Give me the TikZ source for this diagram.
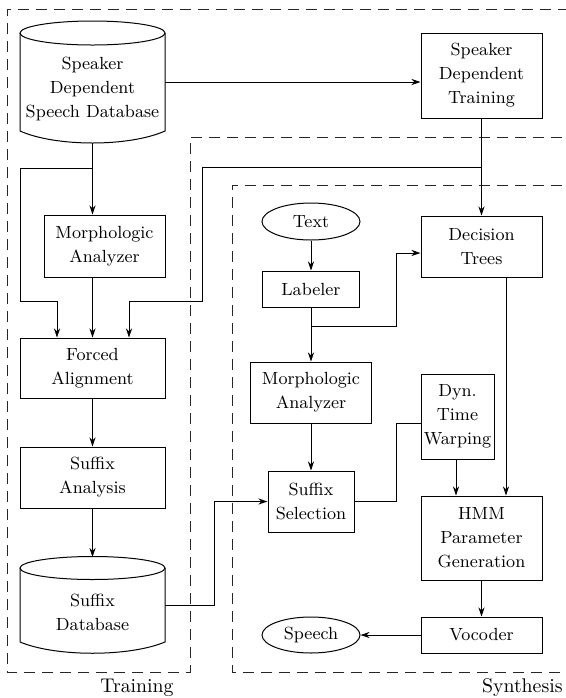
\documentclass[tikz,border=0pt]{standalone}
\usetikzlibrary{arrows.meta,shapes.geometric}
\begin{document}
\begin{tikzpicture}[x=0.5pt,y=-0.5pt,
  txt/.style={align=center, inner sep=0pt, font=\rmfamily\fontsize{8.8}{12}\selectfont},
  box/.style 2 args={txt, draw, line width=0.5pt, minimum width=#1*0.5pt, minimum height=#2*0.5pt},
  ell/.style 2 args={txt, draw, ellipse, line width=0.5pt, minimum width=#1*0.5pt, minimum height=#2*0.5pt},
  hold/.style 2 args={inner sep=0pt, minimum width=#1*0.5pt, minimum height=#2*0.5pt},
  ln/.style={line width=0.5pt},
  arr/.style={line width=0.5pt, -{Stealth[length=4.5pt,width=3pt]}},
  region/.style={line width=0.5pt, black!85, dash pattern=on 5.5pt off 3.5pt},
  lbl/.style={inner sep=0pt, font=\rmfamily\fontsize{9.9}{12}\selectfont}]
\useasboundingbox (0,0) rectangle (566,698);
\clip (0,0) rectangle (566,698);

% regions
\draw[region] (580,137) -- (190,137) -- (190,672) -- (7,672) -- (7,9) -- (580,9);
\draw[region] (580,185) -- (232,185) -- (232,672) -- (580,672);
\node[lbl] (training) at (137,688) {Training};
\node[lbl, anchor=east] (synthesis) at (563,688) {Synthesis};

% cylinders
\draw[ln] (20,33) -- (20,131) .. controls (56,147) and (129,147) .. (165,131) -- (165,33);
\draw[ln] (92.5,33) ellipse [x radius=36.25pt, y radius=6pt];
\node[hold={145}{122}] (spkdb) at (92.5,82) {};
\node[txt] (spkdbtext) at (92.5,89) {Speaker\\Dependent\\Speech Database};

\draw[ln] (20,568) -- (20,642) .. controls (56,657) and (129,657) .. (165,642) -- (165,568);
\draw[ln] (92.5,568) ellipse [x radius=36.25pt, y radius=5.75pt];
\node[hold={145}{96}] (sdb) at (92.5,605) {};
\node[txt] (sdbtext) at (92.5,612) {Suffix\\Database};

% training boxes
\node[box={121}{62}] (morph1) at (104.5,246) {Morphologic\\Analyzer};
\node[box={145}{60}] (fa) at (92.5,368) {Forced\\Alignment};
\node[box={145}{61}] (sa) at (92.5,477.5) {Suffix\\Analysis};
\node[box={121}{85}] (sdt) at (481.5,75.5) {Speaker\\Dependent\\Training};

% synthesis nodes
\node[ell={98}{37}] (text) at (311,221.5) {Text};
\node[box={97}{36}] (labeler) at (311,289) {Labeler};
\node[box={121}{61}] (dt) at (481.5,246.5) {Decision\\Trees};
\node[box={121}{61}] (morph2) at (311,392.5) {Morphologic\\Analyzer};
\node[box={86}{61}] (ss) at (311,501.5) {Suffix\\Selection};
\node[box={73}{85}] (dtw) at (457.5,416.5) {Dyn.\\Time\\Warping};
\node[box={121}{84}] (hmm) at (481.5,538) {HMM\\Parameter\\Generation};
\node[box={121}{36}] (voc) at (481.5,635) {Vocoder};
\node[ell={98}{36}] (speech) at (311,635) {Speech};

% connectors (training)
\draw[arr] (spkdb.east) -- (spkdb.east -| sdt.west);
\draw[arr] (spkdb.south) -- (spkdb.south |- morph1.north);
\coordinate (b1) at (92.5,168);
\draw[arr] (b1) -- (20,168) -- (20,301) -| ([xshift=-17.75pt]fa.north);
\draw[arr] (morph1.south -| fa.north) -- (fa.north);
\draw[arr] (fa.south) -- (sa.north);
\draw[arr] (sa.south) -- (spkdb.south |- 0,557);
\draw[arr] (sdt.south) -- (dt.north);
\coordinate (b2) at (481.5,167);
\draw[arr] (b2) -- (202,167) -- (202,301) -| ([xshift=18.25pt]fa.north);
\draw[arr] (sdb.east) -- (214,605) |- (ss.west);

% connectors (synthesis)
\draw[arr] (text.south) -- (labeler.north);
\draw[arr] (labeler.south) -- (morph2.north);
\coordinate (b3) at (311,326);
\draw[arr] (b3) -- (396,326) |- ([yshift=-3.25pt]dt.west);
\draw[arr] (morph2.south) -- (ss.north);
\draw[ln] (ss.east) -- (396,501.5) |- ([yshift=-3.25pt]dtw.west);
\draw[arr] ([xshift=-0.75pt]dtw.south) -- ([xshift=-0.75pt]dtw.south |- hmm.north);
\draw[arr] ([xshift=12.25pt]dt.south) -- ([xshift=12.25pt]dt.south |- hmm.north);
\draw[arr] (hmm.south) -- (voc.north);
\draw[arr] (voc.west) -- (speech.east);
\end{tikzpicture}
\end{document}
